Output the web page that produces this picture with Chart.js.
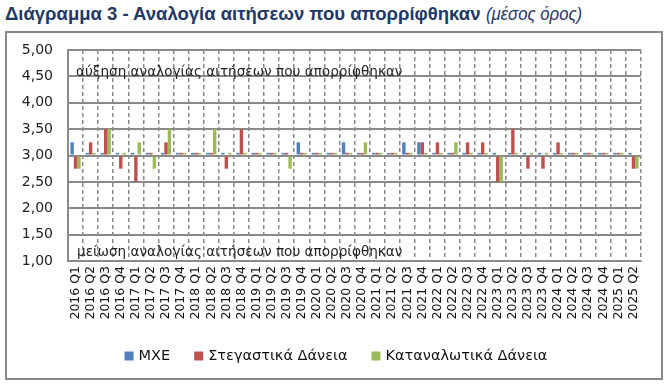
<!DOCTYPE html>
<html>
<head>
<meta charset="utf-8">
<script src="https://cdn.jsdelivr.net/npm/chart.js@4"></script>
<style>
  html, body { margin: 0; padding: 0; background: #fff; }
  body { width: 666px; height: 386px; position: relative; overflow: hidden; }
  #title { position: absolute; left: 5px; top: 3px; font-family: "Liberation Sans", Arial, sans-serif; font-size: 18.5px; color: #1F3864; white-space: nowrap; }
  #title b { font-weight: bold; }
  #title i { display: inline-block; font-weight: normal; font-style: italic; font-size: 18.6px; transform: scaleX(0.9); transform-origin: left center; }
  #frame { position: absolute; left: 5px; top: 31px; width: 654px; height: 345px; border: 2px solid #8a8a8a; }
  #wrap { position: absolute; left: 0; top: 0; width: 666px; height: 386px; }
</style>
</head>
<body>
<div id="title"><b>Διάγραμμα 3 - Αναλογία αιτήσεων που απορρίφθηκαν</b> <i>(μέσος όρος)</i></div>
<div id="frame"></div>
<div id="wrap"><canvas id="c" width="666" height="386"></canvas></div>
<script>
const categories = [
  "2016 Q1","2016 Q2","2016 Q3","2016 Q4",
  "2017 Q1","2017 Q2","2017 Q3","2017 Q4",
  "2018 Q1","2018 Q2","2018 Q3","2018 Q4",
  "2019 Q1","2019 Q2","2019 Q3","2019 Q4",
  "2020 Q1","2020 Q2","2020 Q3","2020 Q4",
  "2021 Q1","2021 Q2","2021 Q3","2021 Q4",
  "2022 Q1","2022 Q2","2022 Q3","2022 Q4",
  "2023 Q1","2023 Q2","2023 Q3","2023 Q4",
  "2024 Q1","2024 Q2","2024 Q3","2024 Q4",
  "2025 Q1","2025 Q2"
];
const seriesNames = ["ΜΧΕ", "Στεγαστικά Δάνεια", "Καταναλωτικά Δάνεια"];
const mxe = [
  3.25,3.05,3.05,3.05, 3.05,3.05,3.05,3.05, 3.05,3.05,3.05,3.05,
  3.05,3.05,3.05,3.25, 3.05,3.05,3.25,3.05, 3.05,3.05,3.25,3.25,
  3.05,3.05,3.05,3.05, 3.05,3.05,3.05,3.05, 3.05,3.05,3.05,3.05,
  3.05,3.05
];
const stegastika = [
  2.75,3.25,3.50,2.75, 2.50,3.05,3.25,3.05, 3.05,3.05,2.75,3.50,
  3.05,3.05,3.05,3.05, 3.05,3.05,3.05,3.05, 3.05,3.05,3.05,3.25,
  3.25,3.05,3.25,3.25, 2.50,3.50,2.75,2.75, 3.25,3.05,3.05,3.05,
  3.05,2.75
];
const katanalotika = [
  2.75,3.05,3.50,3.05, 3.25,2.75,3.50,3.05, 3.05,3.50,3.05,3.05,
  3.05,3.05,2.75,3.05, 3.05,3.05,3.05,3.25, 3.05,3.05,3.05,3.05,
  3.05,3.25,3.05,3.05, 2.50,3.05,3.05,3.05, 3.05,3.05,3.05,3.05,
  3.05,2.75
];
const baseValue = 3;
const yTicks = [1, 1.5, 2, 2.5, 3, 3.5, 4, 4.5, 5];
const upText = "αύξηση αναλογίας αιτήσεων που απορρίφθηκαν";
const downText = "μείωση αναλογίας αιτήσεων που απορρίφθηκαν";

const colors = ["#4F81BD", "#C0504D", "#9BBB59"];
const font = "'DejaVu Sans', Verdana, sans-serif";

const annotations = {
  id: 'annot',
  afterDatasetsDraw(chart) {
    const ctx = chart.ctx, x = chart.scales.x, y = chart.scales.y;
    ctx.save();
    ctx.font = "13.6px " + font;
    ctx.fillStyle = "#222";
    ctx.textBaseline = "middle";
    ctx.textAlign = "left";
    ctx.fillText(upText, x.left + 8, y.getPixelForValue(4.57));
    ctx.fillText(downText, x.left + 9, y.getPixelForValue(1.17));
    ctx.restore();
  }
};

const customLegend = {
  id: 'customLegend',
  afterDraw(chart) {
    const ctx = chart.ctx;
    ctx.save();
    ctx.font = "14.5px " + font;
    ctx.textBaseline = "middle";
    ctx.textAlign = "left";
    const box = 9, gapText = 5, gapItem = 24, cy = 356;
    const items = chart.data.datasets.map(d => ({ text: d.label, color: d.backgroundColor, w: ctx.measureText(d.label).width }));
    const total = items.reduce((s, it) => s + box + gapText + it.w, 0) + gapItem * (items.length - 1);
    let x = 336 - total / 2;
    items.forEach(it => {
      ctx.fillStyle = it.color;
      ctx.fillRect(x, cy - box / 2, box, box);
      x += box + gapText;
      ctx.fillStyle = "#111";
      ctx.fillText(it.text, x, cy);
      x += it.w + gapItem;
    });
    ctx.restore();
  }
};

new Chart(document.getElementById('c'), {
  type: 'bar',
  data: {
    labels: categories,
    datasets: [
      { label: seriesNames[0], data: mxe, backgroundColor: colors[0], base: baseValue },
      { label: seriesNames[1], data: stegastika, backgroundColor: colors[1], base: baseValue },
      { label: seriesNames[2], data: katanalotika, backgroundColor: colors[2], base: baseValue }
    ]
  },
  options: {
    responsive: false,
    animation: false,
    devicePixelRatio: 1,
    categoryPercentage: 0.68,
    barPercentage: 1,
    layout: { padding: { left: 0, top: 50, right: 25, bottom: 47 } },
    plugins: {
      legend: { display: false },
      tooltip: { enabled: false }
    },
    scales: {
      x: {
        offset: true,
        grid: { offset: true, color: '#888', lineWidth: 1.5, drawTicks: false },
        border: { display: true, color: '#8a8a8a', width: 2, dash: [4, 3] },
        ticks: { autoSkip: false, minRotation: 90, maxRotation: 90, padding: 5, color: '#111', font: { family: font, size: 12.5 } },
        afterFit(s) { s.height = 78; }
      },
      y: {
        min: 1, max: 5,
        afterBuildTicks(s) { s.ticks = yTicks.map(v => ({ value: v })); },
        grid: { color: '#8a8a8a', lineWidth: 2, drawTicks: false },
        border: { display: true, color: '#8a8a8a', width: 2 },
        ticks: { padding: 15, color: '#222', font: { family: font, size: 14 },
          callback: v => v.toFixed(2).replace('.', ',') },
        afterFit(s) { s.width = 68; }
      }
    }
  },
  plugins: [annotations, customLegend]
});
</script>
</body>
</html>
